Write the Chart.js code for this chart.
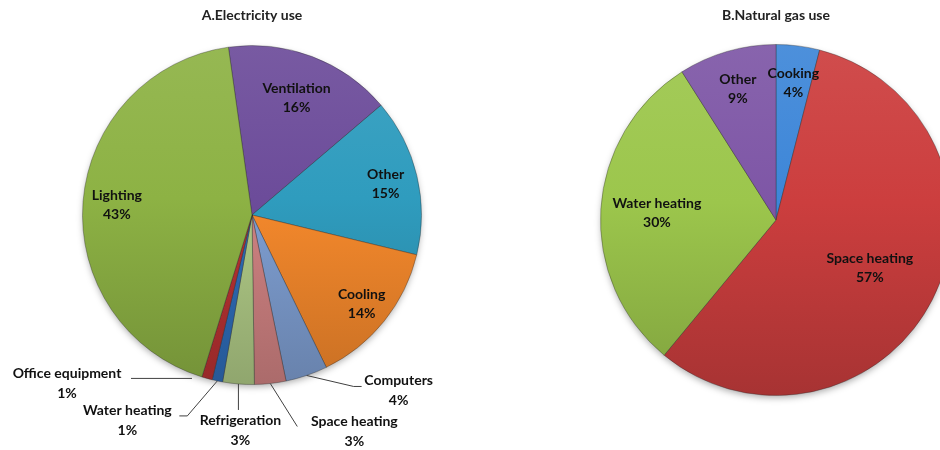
<!DOCTYPE html>
<html>
<head>
<meta charset="utf-8">
<script src="https://cdn.jsdelivr.net/npm/chart.js@4.4.1/dist/chart.umd.min.js"></script>
<style>
  html, body { margin: 0; padding: 0; background: #fff; }
  body { position: relative; width: 940px; height: 450px; overflow: hidden; }
  canvas { position: absolute; top: 0; }
  #elec { left: 0; }
  #gas { left: 590px; }
</style>
</head>
<body>
<canvas id="elec" width="484" height="450"></canvas>
<canvas id="gas" width="386" height="450"></canvas>
<script>
// data
const elecLabels = ['Ventilation', 'Other', 'Cooling', 'Computers', 'Space heating', 'Refrigeration', 'Water heating', 'Office equipment', 'Lighting']
const elecValues = [16, 15, 14, 4, 3, 3, 1, 1, 43]
const gasLabels = ['Cooking', 'Space heating', 'Water heating', 'Other']
const gasValues = [4, 57, 30, 9]

// slice colours
const elecColors = ['#6c4c9a', '#2f9cbe', '#f5892c', '#7f9fd2', '#d08282', '#b0ca86', '#2e6cb8', '#b83232', '#8db244']
const gasColors = ['#3d86d8', '#cc3e3e', '#9cc64c', '#7e56a6']

const FONT = 'Lato, "Open Sans", sans-serif'

function shade(hex, amt) {
  let n = parseInt(hex.slice(1), 16)
  let c = [(n >> 16) & 255, (n >> 8) & 255, n & 255].map(v => {
    let r = amt > 0 ? v + (255 - v) * amt : v * (1 + amt)
    return Math.round(Math.max(0, Math.min(255, r)))
  })
  return `rgb(${c[0]},${c[1]},${c[2]})`
}

// vertical gradient: lighter on top, darker at the bottom
function gradientFill(colors) {
  return function (ctx) {
    let chart = ctx.chart
    let area = chart.chartArea
    let base = colors[ctx.dataIndex]
    if (!area) return base
    let g = chart.ctx.createLinearGradient(0, area.top, 0, area.bottom)
    g.addColorStop(0, shade(base, 0.08))
    g.addColorStop(0.45, base)
    g.addColorStop(1, shade(base, -0.18))
    return g
  }
}

// drop shadow under the pie
const pieShadow = {
  id: 'pieShadow',
  beforeDatasetsDraw(chart) {
    let arc = chart.getDatasetMeta(0).data[0]
    if (!arc) return
    let ctx = chart.ctx
    ctx.save()
    ctx.shadowColor = 'rgba(0,0,0,0.35)'
    ctx.shadowBlur = 7
    ctx.shadowOffsetY = 3
    ctx.fillStyle = '#888'
    ctx.beginPath()
    ctx.arc(arc.x, arc.y, arc.outerRadius - 1, 0, Math.PI * 2)
    ctx.fill()
    ctx.restore()
  }
}

// labels inside slices + callouts for small slices
const sliceLabels = {
  id: 'sliceLabels',
  afterDatasetsDraw(chart, args, opts) {
    let ctx = chart.ctx
    let meta = chart.getDatasetMeta(0)
    let data = chart.data.datasets[0].data
    let total = data.reduce((a, b) => a + b, 0)
    ctx.save()
    ctx.font = 'bold 14px ' + FONT
    ctx.fillStyle = '#111'
    ctx.textAlign = 'center'
    ctx.textBaseline = 'middle'
    meta.data.forEach((arc, i) => {
      let p = arc.getProps(['x', 'y', 'startAngle', 'endAngle', 'outerRadius'], true)
      let mid = (p.startAngle + p.endAngle) / 2
      let name = chart.data.labels[i]
      let pct = Math.round((data[i] / total) * 100) + '%'
      let inside = opts.inside[i]
      let callout = opts.callouts[i]
      if (inside !== undefined) {
        let x = p.x + Math.cos(mid) * p.outerRadius * inside
        let y = p.y + Math.sin(mid) * p.outerRadius * inside
        ctx.fillText(name, x, y - 9)
        ctx.fillText(pct, x, y + 10)
      } else if (callout) {
        let ex = p.x + Math.cos(mid) * p.outerRadius
        let ey = p.y + Math.sin(mid) * p.outerRadius
        ctx.strokeStyle = '#404040'
        ctx.lineWidth = 1
        ctx.beginPath()
        callout.line.forEach((pt, k) => {
          if (k === 0) ctx.moveTo(ex + pt[0], ey + pt[1])
          else ctx.lineTo(ex + pt[0], ey + pt[1])
        })
        ctx.stroke()
        let tx = ex + callout.text[0]
        let ty = ey + callout.text[1]
        ctx.fillText(name, tx, ty - 10)
        ctx.fillText(pct, tx, ty + 10)
      }
    })
    ctx.restore()
  }
}

function pieConfig(labels, values, colors, title, titlePadBottom, rotation, padding, labelOpts) {
  return {
    type: 'pie',
    data: {
      labels: labels,
      datasets: [{
        data: values,
        backgroundColor: gradientFill(colors),
        borderColor: 'rgba(40,40,40,0.35)',
        borderWidth: 1
      }]
    },
    options: {
      responsive: false,
      animation: false,
      rotation: rotation,
      layout: { padding: padding },
      plugins: {
        legend: { display: false },
        tooltip: { enabled: false },
        title: {
          display: true,
          text: title,
          color: '#222',
          font: { family: FONT, size: 14, weight: 'bold' },
          padding: { top: 7, bottom: titlePadBottom }
        },
        sliceLabels: labelOpts
      }
    },
    plugins: [pieShadow, sliceLabels]
  }
}

new Chart(document.getElementById('elec'), pieConfig(
  elecLabels, elecValues, elecColors, 'A.Electricity use', 21.2, -8,
  { left: 82, right: 62, top: 0, bottom: 65 },
  {
    inside: { 0: 0.74, 1: 0.81, 2: 0.83, 8: 0.8 },
    callouts: {
      3: { line: [[0, 0], [47, 11], [55, 11]], text: [92, 15] },
      4: { line: [[0, 0], [27, 43]], text: [84, 48] },
      5: { line: [[0, 0], [0, 26]], text: [2, 47] },
      6: { line: [[0, 0], [-30, 35], [-38, 35]], text: [-90, 40] },
      7: { line: [[-15, 0], [-76, 0]], text: [-140, 5] }
    }
  }
))

new Chart(document.getElementById('gas'), pieConfig(
  gasLabels, gasValues, gasColors, 'B.Natural gas use', 20.2, 0,
  { left: 10, right: 24, top: 0, bottom: 54 },
  {
    inside: { 0: 0.79, 1: 0.6, 2: 0.68, 3: 0.78 },
    callouts: {}
  }
))
</script>
</body>
</html>
